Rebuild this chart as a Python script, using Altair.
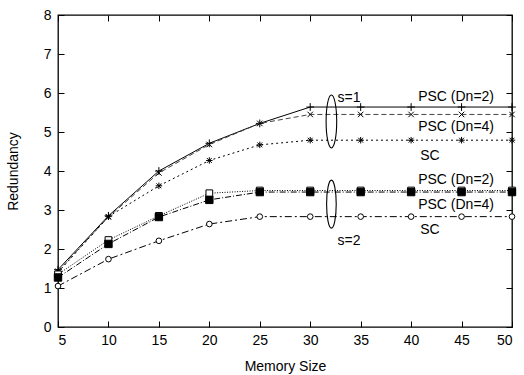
import altair as alt
import pandas as pd

# ---- data ----
memory = [5, 10, 15, 20, 25, 30, 35, 40, 45, 50]
psc2_s1 = [1.47, 2.85, 4.00, 4.71, 5.22, 5.64, 5.64, 5.64, 5.64, 5.64]
psc4_s1 = [1.43, 2.82, 3.95, 4.68, 5.22, 5.45, 5.45, 5.45, 5.45, 5.45]
sc_s1 = [1.40, 2.83, 3.62, 4.27, 4.67, 4.79, 4.79, 4.79, 4.79, 4.79]
psc2_s2 = [1.35, 2.23, 2.85, 3.43, 3.50, 3.50, 3.50, 3.50, 3.50, 3.50]
psc4_s2 = [1.27, 2.13, 2.82, 3.26, 3.46, 3.46, 3.46, 3.46, 3.46, 3.46]
sc_s2 = [1.05, 1.74, 2.21, 2.64, 2.83, 2.83, 2.83, 2.83, 2.83, 2.83]

x_ticks = [5, 10, 15, 20, 25, 30, 35, 40, 45, 50]
y_ticks = [0, 1, 2, 3, 4, 5, 6, 7, 8]

label_text = ["s=1", "PSC (Dn=2)", "PSC (Dn=4)", "SC", "s=2", "PSC (Dn=2)", "PSC (Dn=4)", "SC"]
label_x = [32.7, 40.7, 40.7, 40.9, 32.7, 40.7, 40.7, 40.9]
label_y = [5.88, 5.90, 5.14, 4.38, 2.20, 3.77, 3.13, 2.49]

ellipse_x = [32.1, 32.1]
ellipse_y = [5.27, 3.15]
ellipse_h = [53, 48]

FONT = "Liberation Sans"
xs = alt.Scale(domain=[5, 50], nice=False, zero=False)
ys = alt.Scale(domain=[0, 8], nice=False)

PLUS = "M-1,0L1,0M0,-1L0,1"
XMARK = "M-1,-1L1,1M-1,1L1,-1"
STAR = "M-1,0L1,0M0,-1L0,1M-0.75,-0.75L0.75,0.75M-0.75,0.75L0.75,-0.75"
ELLIPSE = ("M0,-1C0.11,-1,0.2,-0.552,0.2,0C0.2,0.552,0.11,1,0,1"
           "C-0.11,1,-0.2,0.552,-0.2,0C-0.2,-0.552,-0.11,-1,0,-1Z")

series = [
    (psc2_s1, None, "#000000", PLUS, 60, False, "none"),
    (psc4_s1, [5, 3], "#444444", XMARK, 30, False, "none"),
    (sc_s1, [2, 3], "#000000", STAR, 42, False, "none"),
    (psc2_s2, [1, 1.5], "#000000", "square", 45, False, "white"),
    (psc4_s2, [6, 2, 1, 2], "#000000", "square", 55, True, "black"),
    (sc_s2, [7, 3, 2, 3], "#000000", "circle", 32, False, "white"),
]

bottom_axis = alt.Axis(values=x_ticks, orient="bottom", offset=-6, tickSize=6, domain=False,
                       grid=False, labelPadding=6, labelFont=FONT, labelFontSize=14,
                       labelColor="black", tickColor="black", title="Memory Size",
                       titleFont=FONT, titleFontSize=14, titleFontWeight="normal",
                       titleColor="black", titlePadding=12)
left_axis = alt.Axis(values=y_ticks, orient="left", offset=-6, tickSize=6, domain=False,
                     grid=False, labelPadding=7, labelFont=FONT, labelFontSize=14,
                     labelColor="black", tickColor="black", title="Redundancy",
                     titleFont=FONT, titleFontSize=14, titleFontWeight="normal",
                     titleColor="black", titlePadding=23)
top_axis = alt.Axis(values=x_ticks, orient="top", offset=-6, tickSize=6, domain=False,
                    grid=False, labels=False, tickColor="black", title=None)
right_axis = alt.Axis(values=y_ticks, orient="right", offset=-6, tickSize=6, domain=False,
                      grid=False, labels=False, tickColor="black", title=None)

layers = []
for i, (vals, dash, col, shape, size, filled, fill) in enumerate(series):
    df = pd.DataFrame({"Memory Size": memory, "Redundancy": vals})
    if i == 0:
        xa = alt.X("Memory Size:Q", scale=xs, axis=bottom_axis)
        ya = alt.Y("Redundancy:Q", scale=ys, axis=left_axis)
    else:
        xa = alt.X("Memory Size:Q", scale=xs, axis=None)
        ya = alt.Y("Redundancy:Q", scale=ys, axis=None)
    line_kw = dict(color=col, strokeWidth=1.0)
    if dash:
        line_kw["strokeDash"] = dash
    line = alt.Chart(df).mark_line(**line_kw).encode(x=xa, y=ya)
    pt_kw = dict(shape=shape, size=size, stroke="black", strokeWidth=1.0, opacity=1)
    if filled:
        pt_kw.update(filled=True, fill="black")
    else:
        pt_kw.update(filled=False, fill=fill)
    pts = alt.Chart(df).mark_point(**pt_kw).encode(
        x=alt.X("Memory Size:Q", scale=xs, axis=None),
        y=alt.Y("Redundancy:Q", scale=ys, axis=None))
    layers += [line, pts]

ell_df = pd.DataFrame({"x": ellipse_x, "y": ellipse_y, "s": [h * h for h in ellipse_h]})
ellipses = alt.Chart(ell_df).mark_point(shape=ELLIPSE, filled=False, stroke="black",
                                        strokeWidth=1.1, opacity=1).encode(
    x=alt.X("x:Q", scale=xs, axis=top_axis),
    y=alt.Y("y:Q", scale=ys, axis=right_axis),
    size=alt.Size("s:Q", scale=None, legend=None))

lab_df = pd.DataFrame({"t": label_text, "x": label_x, "y": label_y})
labels = alt.Chart(lab_df).mark_text(align="left", baseline="middle", font=FONT,
                                     fontSize=14, color="black").encode(
    x=alt.X("x:Q", scale=xs, axis=None),
    y=alt.Y("y:Q", scale=ys, axis=None),
    text="t:N")

chart = alt.layer(*layers, ellipses, labels).resolve_axis(
    x="independent", y="independent"
).properties(
    width=454, height=312,
    autosize=alt.AutoSizeParams(type="none"),
    padding={"left": 58, "top": 15, "right": 12, "bottom": 48},
    background="white",
).configure_view(stroke="black", strokeWidth=1.3)

chart.save("out.html", embed_options={"renderer": "svg", "actions": False})
